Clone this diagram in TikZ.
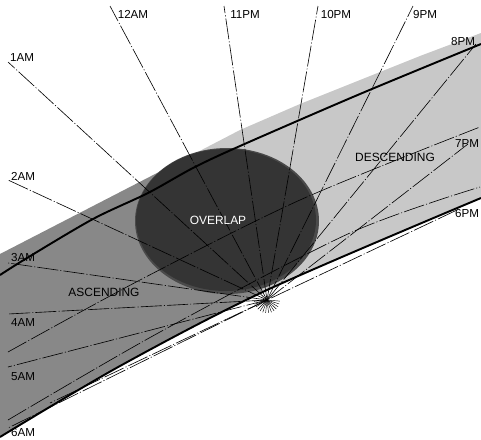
\documentclass[tikz,border=0pt]{standalone}
\usepackage{fontspec}
\setmainfont{Liberation Sans}
\definecolor{descgray}{RGB}{200,200,200}
\definecolor{ascgray}{RGB}{136,136,136}
\definecolor{overlapgray}{RGB}{52,52,52}
\definecolor{rimgray}{RGB}{74,74,74}
\begin{document}
\begin{tikzpicture}[x=0.02cm,y=-0.02cm,
    hourline/.style={line width=0.35pt,dash pattern=on 12pt off 1.2pt on 0.6pt off 1.2pt},
    fanline/.style={line width=0.25pt},
    orbit/.style={line width=1.1pt},
    hourlabel/.style={font=\fontsize{6.6}{7}\selectfont,inner sep=0pt},
    regionlabel/.style={font=\fontsize{6.8}{7}\selectfont,inner sep=0pt}]
    \useasboundingbox (0,0) rectangle (481,440);
    % swaths, cut off along the lower track
    \begin{scope}
        \clip plot[smooth] coordinates {(0,437) (120,366) (267,290) (481,198)} -- (481,0) -- (0,0) -- cycle;
        \fill[descgray] (190,156) -- (240,130) -- (300,104) -- (360,80) -- (420,56) -- (481,33)
            -- (481,260) -- (262,320) -- cycle;
        \fill[ascgray] (0,254) -- (190,156) -- (262,292) -- (262,330) -- (0,460) -- cycle;
    \end{scope}
    \fill[rimgray] (227,221) ellipse [x radius=92, y radius=73];
    \fill[overlapgray] (226,220) ellipse [x radius=90, y radius=71];
    % orbit tracks
    \draw[orbit] plot[smooth] coordinates {(0,275) (27,258) (93,219) (148,193) (193,168) (240,146) (360,94) (481,44)};
    \draw[orbit] plot[smooth] coordinates {(0,437) (120,366) (267,290) (481,198)};
    % local time lines
    \coordinate (F) at (267,300);
    \coordinate (e12a) at (110,6);
    \coordinate (e1a) at (8,62);
    \coordinate (e2a) at (8,180);
    \coordinate (e3a) at (8,263);
    \coordinate (e4a) at (8,314);
    \coordinate (e5a) at (8,367);
    \coordinate (e6a) at (8,428);
    \coordinate (e11p) at (224,6);
    \coordinate (e10p) at (318,6);
    \coordinate (e9p) at (413,6);
    \coordinate (e8p) at (476,44);
    \coordinate (e7p) at (468,144);
    \coordinate (e6p) at (457,210);
    \coordinate (x6a) at (50,403);
    \foreach \e in {e12a,e1a,e2a,e3a,e4a,e5a,e6a,e11p,e10p,e9p,e8p,e7p}
        \draw[hourline] (F) -- (\e);
    \draw[hourline] (e6p) -- (F) -- (x6a);
    \draw[hourline] plot[smooth] coordinates {(8,352) (140,280) (300,200) (480,127)};
    \draw[hourline] plot[smooth] coordinates {(8,420) (160,332) (350,233) (480,187)};
    \foreach \a in {5,18,...,175}
        \draw[fanline] (F) -- ++(\a:13);
    % labels
    \node[hourlabel] (l12a) at (133,14) {12AM};
    \node[hourlabel] (l11p) at (245,15) {11PM};
    \node[hourlabel] (l10p) at (336,15) {10PM};
    \node[hourlabel] (l9p) at (425,15) {9PM};
    \node[hourlabel] (l8p) at (463,42) {8PM};
    \node[hourlabel] (l7p) at (467,144) {7PM};
    \node[hourlabel] (l6p) at (467,214) {6PM};
    \node[hourlabel] (l1a) at (22,58) {1AM};
    \node[hourlabel] (l2a) at (23,176) {2AM};
    \node[hourlabel] (l3a) at (23,258) {3AM};
    \node[hourlabel] (l4a) at (23,323) {4AM};
    \node[hourlabel] (l5a) at (23,377) {5AM};
    \node[hourlabel] (l6a) at (23,433) {6AM};
    \node[regionlabel] (desc) at (395,157) {DESCENDING};
    \node[regionlabel] (asc) at (104,292) {ASCENDING};
    \node[regionlabel,text=white] (over) at (218,220) {OVERLAP};
\end{tikzpicture}
\end{document}
